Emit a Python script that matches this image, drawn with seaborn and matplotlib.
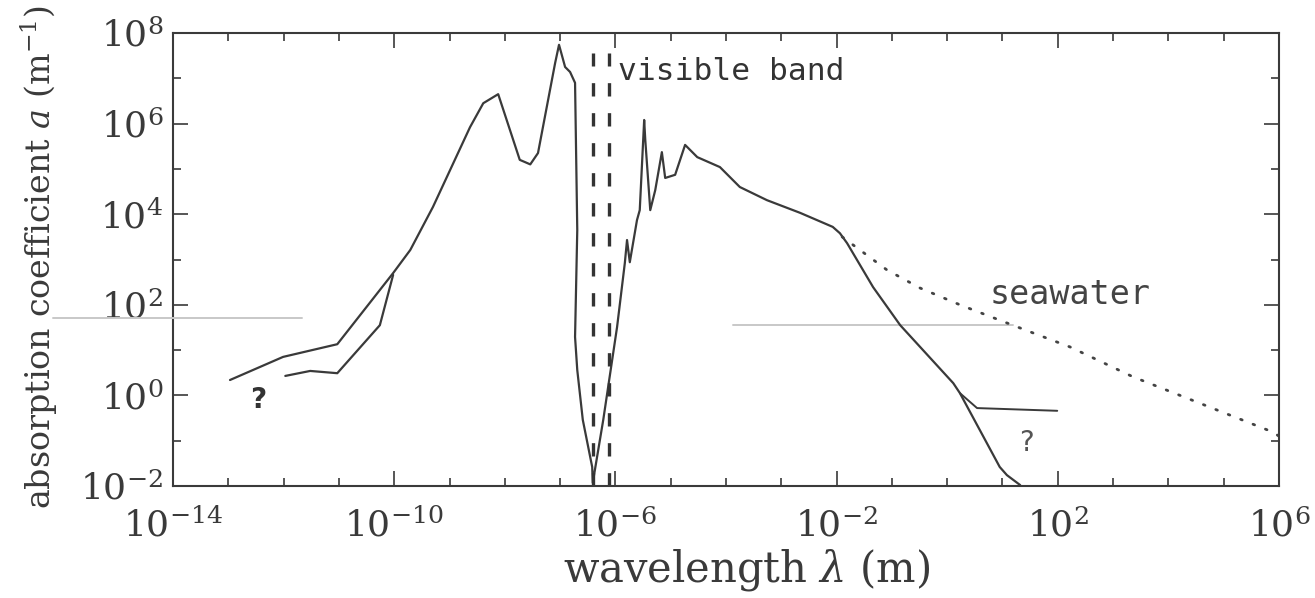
import numpy as np
import pandas as pd
import matplotlib
matplotlib.use("Agg")
import matplotlib.pyplot as plt
from matplotlib.ticker import NullFormatter
import seaborn as sns

# ---- data (log10 wavelength [m], log10 absorption coefficient [1/m]) ----
main_log_wl = [-12.97, -12.01, -11.03, -10.02, -9.71, -9.30, -8.63, -8.39, -8.12,
               -7.73, -7.54, -7.40, -7.09, -7.02, -6.91, -6.82, -6.73, -6.69,
               -6.73, -6.69, -6.59, -6.42, -6.41, -6.22, -5.97, -5.83, -5.79,
               -5.74, -5.61, -5.56, -5.48, -5.46, -5.37, -5.28, -5.16, -5.10,
               -4.92, -4.74, -4.52, -4.11, -3.75, -3.26, -2.66, -2.07, -1.94,
               -1.81, -1.34, -0.85, 0.11, 0.23, 0.95, 1.08, 1.32]
main_log_a = [0.34, 0.85, 1.13, 2.70, 3.21, 4.16, 5.92, 6.45, 6.65,
              5.20, 5.10, 5.35, 7.34, 7.74, 7.25, 7.14, 6.90, 3.65,
              1.29, 0.56, -0.54, -1.58, -1.93, -0.54, 1.51, 2.92, 3.43,
              2.94, 3.87, 4.09, 6.08, 5.64, 4.09, 4.53, 5.37, 4.80,
              4.87, 5.53, 5.26, 5.04, 4.60, 4.31, 4.03, 3.72, 3.58,
              3.36, 2.39, 1.55, 0.27, 0.05, -1.58, -1.76, -1.98]

xray_branch_log_wl = [-11.97, -11.52, -11.03, -10.26, -10.02]
xray_branch_log_a = [0.43, 0.54, 0.49, 1.55, 2.66]

radio_branch_log_wl = [0.23, 0.54, 1.99]
radio_branch_log_a = [0.05, -0.28, -0.34]

seawater_log_wl = [-1.90, -1.70, -1.09, -0.49, 0.23, 0.95, 1.55, 2.22, 3.36, 5.89, 6.0]
seawater_log_a = [3.50, 3.32, 2.77, 2.37, 2.00, 1.66, 1.38, 1.07, 0.41, -0.81, -0.90]

visible_band_wl = [4.0e-7, 7.6e-7]

x_major_exp = [-14, -10, -6, -2, 2, 6]
y_major_exp = [-2, 0, 2, 4, 6, 8]

# faint scan streaks seen in the reference
streak_right_log_wl = [-3.87, 1.19]
streak_right_log_a = [1.55, 1.55]

INK = "#3a3a3a"

sns.set_style("ticks")
plt.rcParams['font.family'] = ['DejaVu Serif']
plt.rcParams['mathtext.fontset'] = 'dejavuserif'

fig, ax = plt.subplots(figsize=(13.15, 5.98), dpi=100)
fig.subplots_adjust(left=0.1316, right=0.9726, bottom=0.1873, top=0.9448)

def frame(lx, la):
    return pd.DataFrame({"wl": 10.0 ** np.asarray(lx), "a": 10.0 ** np.asarray(la)})

# faint streaks
sns.lineplot(data=frame(streak_right_log_wl, streak_right_log_a), x="wl", y="a",
             sort=False, estimator=None, color="#c8c8c8", lw=1.4, ax=ax)
fig.add_artist(plt.Line2D([0.04, 0.23], [1 - 318 / 598, 1 - 318 / 598],
                          color="#c8c8c8", lw=1.4, transform=fig.transFigure))

sns.lineplot(data=frame(main_log_wl, main_log_a), x="wl", y="a", sort=False,
             estimator=None, color=INK, lw=1.6, ax=ax)
sns.lineplot(data=frame(xray_branch_log_wl, xray_branch_log_a), x="wl", y="a",
             sort=False, estimator=None, color=INK, lw=1.6, ax=ax)
sns.lineplot(data=frame(radio_branch_log_wl, radio_branch_log_a), x="wl", y="a",
             sort=False, estimator=None, color=INK, lw=1.4, ax=ax)
sw = sns.lineplot(data=frame(seawater_log_wl, seawater_log_a), x="wl", y="a",
                  sort=False, estimator=None, color="#444444", lw=2.0, ax=ax)
sw.lines[-1].set_dashes((0.6, 4.2))
sw.lines[-1].set_dash_capstyle("round")

for wl in visible_band_wl:
    ax.axvline(wl, ymin=0, ymax=0.956, color="#333333", lw=2.4, ls=(0, (4, 5)))

ax.set_xscale("log")
ax.set_yscale("log")
ax.set_xlim(1e-14, 1e6)
ax.set_ylim(1e-2, 1e8)

ax.set_xticks([10.0 ** e for e in x_major_exp])
ax.set_xticklabels([f"$10^{{{e}}}$" for e in x_major_exp])
ax.set_xticks([10.0 ** e for e in range(-14, 7) if e not in x_major_exp], minor=True)
ax.set_yticks([10.0 ** e for e in y_major_exp])
ax.set_yticklabels([f"$10^{{{e}}}$" for e in y_major_exp])
ax.set_yticks([10.0 ** e for e in range(-2, 9) if e not in y_major_exp], minor=True)
ax.xaxis.set_minor_formatter(NullFormatter())
ax.yaxis.set_minor_formatter(NullFormatter())

ax.tick_params(which="both", direction="in", top=True, right=True, color=INK,
               labelcolor=INK, labelsize=26, width=1.2)
ax.tick_params(which="major", length=11)
ax.tick_params(which="minor", length=6)
ax.tick_params(axis="x", pad=16)
ax.tick_params(axis="y", pad=7)
for s in ax.spines.values():
    s.set_color(INK)
    s.set_linewidth(1.5)

ax.set_xlabel(r"wavelength $\lambda$ (m)", fontsize=30, color=INK)
ax.xaxis.set_label_coords(0.519, -0.135)
ax.set_ylabel(r"absorption coefficient $a$ (m$^{-1}$)", fontsize=24, color=INK)
ax.yaxis.set_label_coords(-0.102, 0.505)

ax.text(10 ** -5.95, 10 ** 7.14, "visible band", fontfamily="DejaVu Sans Mono",
        fontsize=22.5, color="#333333", va="center", ha="left")
ax.text(10 ** 0.77, 10 ** 2.22, "seawater", fontfamily="DejaVu Sans Mono",
        fontsize=24, color="#444444", va="center", ha="left")
ax.text(10 ** -12.46, 10 ** -0.10, "?", fontfamily="DejaVu Sans", fontweight="bold",
        fontsize=20, color="#333333", va="center", ha="center")
ax.text(10 ** 1.44, 10 ** -1.05, "?", fontfamily="DejaVu Sans",
        fontsize=20, color="#555555", va="center", ha="center")

fig.savefig("out.png", dpi=100, facecolor="white")
